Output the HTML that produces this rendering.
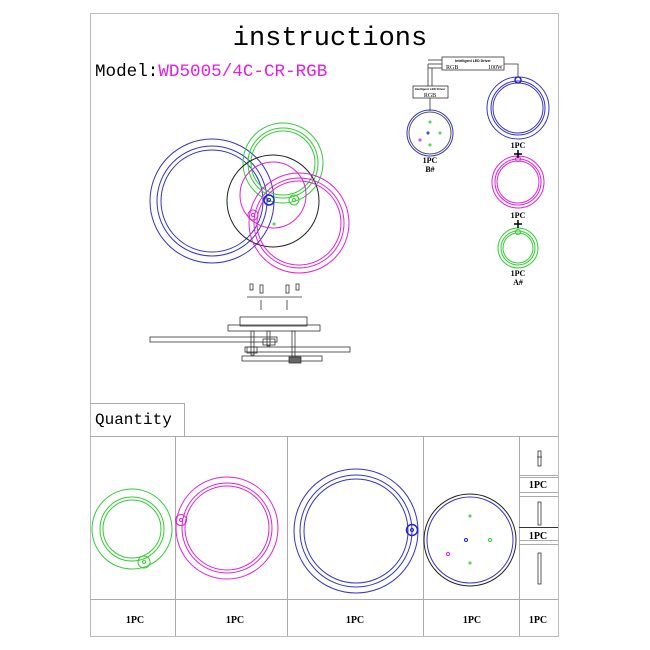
<!DOCTYPE html>
<html><head><style>
html,body{margin:0;padding:0;background:#fff;width:650px;height:650px;overflow:hidden}
svg{display:block}
</style></head><body>
<svg width="650" height="650" viewBox="0 0 650 650" xmlns="http://www.w3.org/2000/svg" fill="none">
<!-- frame -->
<rect x="90.5" y="13.5" width="468" height="623" stroke="#bbb" stroke-width="1"/>
<text x="330" y="45" font-family="Liberation Mono, monospace" font-size="27" fill="#000" text-anchor="middle">instructions</text>
<text x="95" y="76" font-family="Liberation Mono, monospace" font-size="17.6" fill="#000">Model:<tspan fill="#e020e0">WD5005/4C-CR-RGB</tspan></text>

<!-- main composite drawing -->
<g stroke-width="1">
<circle cx="212" cy="201" r="62" stroke="#3333cc"/>
<circle cx="212" cy="201" r="55" stroke="#3333cc"/>
<circle cx="212" cy="201" r="51" stroke="#3333cc"/>
<circle cx="283" cy="163" r="40" stroke="#33cc33"/>
<circle cx="283" cy="163" r="35" stroke="#33cc33"/>
<circle cx="283" cy="163" r="32" stroke="#33cc33"/>
<circle cx="273" cy="201" r="46" stroke="#222"/>
<circle cx="299" cy="223" r="50" stroke="#dd22dd"/>
<circle cx="299" cy="223" r="45" stroke="#dd22dd"/>
<circle cx="299" cy="223" r="42" stroke="#dd22dd"/>
<circle cx="273" cy="195" r="33" stroke="#dd22dd"/>
<circle cx="269" cy="200" r="5" stroke="#2222cc" stroke-width="1.5"/>
<circle cx="269" cy="200" r="1.5" stroke="#2222cc"/>
<circle cx="294" cy="200" r="5" stroke="#33cc33"/>
<circle cx="294" cy="200" r="1.5" stroke="#33cc33"/>
<circle cx="253" cy="215" r="5" stroke="#dd22dd"/>
<circle cx="253" cy="215" r="1.5" stroke="#dd22dd"/>
<circle cx="274" cy="224" r="1" stroke="#33cc33"/>
</g>

<!-- assembly side view -->
<g stroke="#333" stroke-width="0.8">
<line x1="247" y1="297" x2="302" y2="297"/>
<rect x="250" y="284" width="3" height="6"/><rect x="296" y="284" width="3" height="6"/>
<line x1="261" y1="300" x2="261" y2="310"/><line x1="287" y1="300" x2="287" y2="310"/>
<rect x="260" y="285" width="3" height="8"/><rect x="286" y="285" width="3" height="8"/>
<rect x="240" y="317" width="67" height="9"/>
<rect x="228" y="325" width="92" height="6"/>
<rect x="150" y="337" width="127" height="5"/>
<rect x="245" y="347" width="105" height="5"/>
<rect x="242" y="356" width="80" height="5"/>
<rect x="251" y="331" width="3" height="24"/>
<rect x="267" y="331" width="3" height="15"/>
<rect x="292" y="331" width="3" height="28"/>
<rect x="263" y="339" width="12" height="6"/>
<rect x="247" y="347" width="10" height="6"/>
<rect x="289" y="357" width="12" height="6" fill="#666"/>
</g>

<!-- wiring -->
<g stroke="#333" stroke-width="0.8">
<rect x="442" y="57" width="62" height="13" fill="#fff"/>
<line x1="428" y1="60" x2="442" y2="60"/><line x1="428" y1="64" x2="442" y2="64"/><line x1="428" y1="68" x2="442" y2="68"/>
<line x1="428" y1="64" x2="428" y2="86"/><line x1="432" y1="68" x2="432" y2="86"/>
<rect x="413" y="86" width="35" height="12" fill="#fff"/>
<line x1="430" y1="98" x2="430" y2="111"/>
<polyline points="504,64 518,64 518,77"/>
</g>
<text x="473" y="62" font-family="Liberation Sans, sans-serif" font-size="3.5" font-weight="bold" fill="#000" text-anchor="middle">Intelligent LED Driver</text>
<text x="446" y="69" font-family="Liberation Serif, serif" font-size="6" fill="#000">RGB</text>
<text x="488" y="69" font-family="Liberation Serif, serif" font-size="6" fill="#000">100W</text>
<text x="430" y="90" font-family="Liberation Sans, sans-serif" font-size="3" font-weight="bold" fill="#000" text-anchor="middle">Intelligent LED Driver</text>
<text x="430" y="97" font-family="Liberation Serif, serif" font-size="6" fill="#000" text-anchor="middle">RGB</text>
<g stroke-width="1">
<circle cx="430" cy="133" r="23" stroke="#3333cc"/>
<circle cx="430" cy="133" r="21" stroke="#555"/>
<circle cx="430" cy="122" r="1" stroke="#33cc33"/>
<circle cx="428" cy="133" r="1" stroke="#2222cc"/>
<circle cx="440" cy="133" r="1" stroke="#33cc33"/>
<circle cx="420" cy="140" r="1" stroke="#dd22dd"/>
<circle cx="430" cy="145" r="1" stroke="#33cc33"/>
<circle cx="518" cy="108" r="31" stroke="#3333cc"/>
<circle cx="518" cy="108" r="27" stroke="#3333cc"/>
<circle cx="518" cy="108" r="25" stroke="#3333cc"/>
<circle cx="518" cy="80" r="3" stroke="#2222cc" stroke-width="1.5"/>
<circle cx="518" cy="182" r="26" stroke="#dd22dd"/>
<circle cx="518" cy="182" r="23" stroke="#dd22dd"/>
<circle cx="518" cy="182" r="21" stroke="#dd22dd"/>
<circle cx="518" cy="159" r="2.5" stroke="#dd22dd"/>
<circle cx="518" cy="248" r="20" stroke="#33cc33"/>
<circle cx="518" cy="248" r="17" stroke="#33cc33"/>
<circle cx="518" cy="248" r="15" stroke="#33cc33"/>
<circle cx="518" cy="232" r="2.5" stroke="#33cc33"/>
</g>
<g font-family="Liberation Serif, serif" font-size="8" font-weight="bold" fill="#000" text-anchor="middle">
<text x="430" y="163">1PC</text><text x="430" y="172">B#</text>
<text x="518" y="148">1PC</text><text x="518" y="218">1PC</text>
<text x="518" y="276">1PC</text><text x="518" y="285">A#</text>
</g>
<g stroke="#000" stroke-width="1.5">
<line x1="518" y1="150" x2="518" y2="158"/><line x1="514" y1="154" x2="522" y2="154"/>
<line x1="518" y1="220" x2="518" y2="228"/><line x1="514" y1="224" x2="522" y2="224"/>
</g>

<!-- quantity table -->
<g stroke="#aaa" stroke-width="1">
<polyline points="90.5,403.5 184.5,403.5 184.5,436.5"/>
<line x1="90" y1="436.5" x2="558" y2="436.5"/>
<line x1="90" y1="599.5" x2="558" y2="599.5"/>
<line x1="175.5" y1="436" x2="175.5" y2="636"/>
<line x1="287.5" y1="436" x2="287.5" y2="636"/>
<line x1="423.5" y1="436" x2="423.5" y2="636"/>
<line x1="519.5" y1="436" x2="519.5" y2="636"/>
<line x1="519" y1="475.5" x2="558" y2="475.5"/>
<line x1="519" y1="477.5" x2="558" y2="477.5"/>
<line x1="519" y1="492.5" x2="558" y2="492.5"/>
<line x1="519" y1="496.5" x2="558" y2="496.5"/>
<line x1="519" y1="540.5" x2="558" y2="540.5"/>
<line x1="519" y1="544.5" x2="558" y2="544.5"/>
</g>
<line x1="519" y1="527.5" x2="558" y2="527.5" stroke="#333"/>
<text x="95" y="424" font-family="Liberation Mono, monospace" font-size="16" fill="#000">Quantity</text>
<g stroke-width="1">
<circle cx="132" cy="529" r="40" stroke="#33cc33"/>
<circle cx="132" cy="529" r="32" stroke="#33cc33"/>
<circle cx="132" cy="529" r="29" stroke="#33cc33"/>
<circle cx="144" cy="562" r="6" stroke="#33cc33"/>
<circle cx="144" cy="562" r="1.5" stroke="#33cc33"/>
<circle cx="227" cy="528" r="51" stroke="#dd22dd"/>
<circle cx="227" cy="528" r="45" stroke="#dd22dd"/>
<circle cx="227" cy="528" r="42" stroke="#dd22dd"/>
<circle cx="181" cy="520" r="5.5" stroke="#dd22dd"/>
<circle cx="181" cy="520" r="1.5" stroke="#dd22dd"/>
<circle cx="356" cy="531" r="62" stroke="#3333cc"/>
<circle cx="356" cy="531" r="56" stroke="#3333cc"/>
<circle cx="356" cy="531" r="52" stroke="#3333cc"/>
<circle cx="412" cy="530" r="5.5" stroke="#2222cc" stroke-width="1.5"/>
<circle cx="412" cy="530" r="1.5" stroke="#2222cc"/>
<circle cx="470" cy="540" r="46" stroke="#222"/>
<circle cx="470" cy="540" r="43" stroke="#3333cc"/>
<circle cx="470" cy="516" r="1" stroke="#33cc33"/>
<circle cx="466" cy="540" r="1.5" stroke="#2222cc"/>
<circle cx="490" cy="540" r="1.5" stroke="#33cc33"/>
<circle cx="448" cy="554" r="1.5" stroke="#dd22dd"/>
<circle cx="470" cy="563" r="1" stroke="#33cc33"/>
</g>
<g stroke="#333" stroke-width="0.8">
<rect x="538" y="451" width="3" height="15"/><line x1="537" y1="457" x2="542" y2="457"/>
<rect x="538" y="502" width="3" height="23"/>
<rect x="538" y="553" width="3" height="31"/>
</g>
<g font-family="Liberation Serif, serif" font-size="10" font-weight="bold" fill="#000" text-anchor="middle">
<text x="135" y="623">1PC</text><text x="235" y="623">1PC</text><text x="355" y="623">1PC</text>
<text x="472" y="623">1PC</text><text x="538" y="623">1PC</text>
<text x="538" y="488">1PC</text><text x="538" y="539">1PC</text>
</g>
</svg>
</body></html>
